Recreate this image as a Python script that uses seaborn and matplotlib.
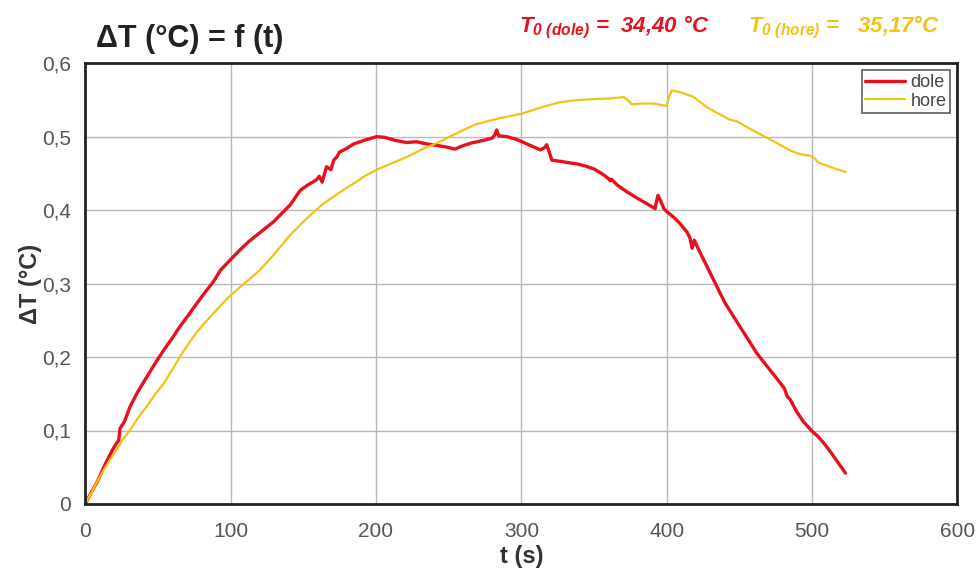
import matplotlib
matplotlib.use("Agg")
import matplotlib.pyplot as plt
import matplotlib.ticker as mticker
import pandas as pd
import seaborn as sns

# dole (spodná sonda)
t_dole = [0, 4, 8, 14, 19.5, 21.7, 23, 24, 27, 31, 36, 42.4, 48, 53.9, 60, 65, 71, 76.8,
          82, 88, 93, 99.7, 106.6, 113, 120, 129.5, 135, 141, 148, 153, 159, 161, 163,
          165, 166, 169, 171, 173, 175, 180, 184.6, 192, 200.6, 206, 213, 221, 228, 235,
          242, 248, 254.5, 259, 265, 272, 280, 282, 283, 284.5, 290, 297, 305, 313, 316,
          317.5, 319, 321, 328, 334, 338, 344, 350, 355, 358, 359, 360, 361, 362, 366,
          372.5, 380, 388.6, 392, 393, 394, 396, 398, 400, 405, 409, 414, 416, 417.5, 419,
          422, 428, 434.5, 440, 450.5, 456, 462, 470, 478, 481, 483, 485, 489, 494, 500,
          504, 508, 513, 518, 523]
dT_dole = [0, 0.015, 0.029, 0.055, 0.076, 0.083, 0.086, 0.103, 0.112, 0.133, 0.152, 0.173,
           0.191, 0.209, 0.226, 0.241, 0.257, 0.273, 0.287, 0.302, 0.318, 0.332, 0.346,
           0.358, 0.369, 0.384, 0.395, 0.407, 0.427, 0.434, 0.441, 0.446, 0.438, 0.452,
           0.459, 0.455, 0.468, 0.472, 0.479, 0.484, 0.490, 0.495, 0.500, 0.499, 0.495,
           0.492, 0.493, 0.490, 0.488, 0.486, 0.483, 0.487, 0.491, 0.494, 0.498, 0.503,
           0.509, 0.501, 0.500, 0.496, 0.489, 0.482, 0.485, 0.489, 0.480, 0.468, 0.466,
           0.464, 0.463, 0.460, 0.456, 0.450, 0.446, 0.444, 0.443, 0.440, 0.442, 0.434,
           0.425, 0.416, 0.406, 0.402, 0.412, 0.420, 0.412, 0.402, 0.398, 0.390, 0.382,
           0.370, 0.362, 0.348, 0.359, 0.346, 0.322, 0.296, 0.274, 0.241, 0.224, 0.205,
           0.185, 0.165, 0.157, 0.146, 0.142, 0.127, 0.112, 0.099, 0.092, 0.083, 0.070,
           0.056, 0.042]

# hore (horná sonda)
t_hore = [0, 5, 10.3, 16, 21.7, 26, 31, 36, 42.4, 48, 54, 60, 65, 71, 76.8, 82, 88, 94, 100,
          110, 120, 130, 141, 152, 164, 175, 184.5, 192, 200.6, 210, 221, 232, 244, 256,
          269, 285, 300, 314, 327, 340, 350, 362, 370.5, 373, 376, 384, 391, 396, 400,
          402, 403.5, 410, 418.5, 423, 427.6, 435, 443.6, 448, 457, 466.5, 476, 485, 492,
          498.6, 502, 504, 508, 515, 523]
dT_hore = [0, 0.018, 0.038, 0.057, 0.074, 0.088, 0.101, 0.116, 0.133, 0.149, 0.164, 0.183,
           0.200, 0.218, 0.234, 0.246, 0.259, 0.272, 0.284, 0.301, 0.318, 0.340, 0.366,
           0.388, 0.409, 0.424, 0.436, 0.446, 0.455, 0.463, 0.472, 0.483, 0.493, 0.505,
           0.517, 0.525, 0.531, 0.540, 0.547, 0.550, 0.551, 0.552, 0.554, 0.550, 0.544,
           0.545, 0.545, 0.543, 0.542, 0.556, 0.563, 0.560, 0.554, 0.547, 0.540, 0.532,
           0.523, 0.521, 0.511, 0.501, 0.491, 0.481, 0.476, 0.474, 0.470, 0.465, 0.462,
           0.457, 0.452]

T0_dole = "34,40 °C"
T0_hore = "35,17°C"

RED = "#e8101a"
YELLOW = "#f2c316"

df_dole = pd.DataFrame({"t": t_dole, "dT": dT_dole})
df_hore = pd.DataFrame({"t": t_hore, "dT": dT_hore})

sns.set_theme(style="whitegrid")
plt.rcParams["font.family"] = ["Liberation Sans", "DejaVu Sans"]
plt.rcParams["mathtext.fontset"] = "custom"
plt.rcParams["mathtext.it"] = "Liberation Sans:bold:italic"
plt.rcParams["mathtext.rm"] = "Liberation Sans:bold:italic"

fig = plt.figure(figsize=(9.79, 5.74), dpi=100)
ax = fig.add_axes([0.087, 0.122, 0.891, 0.768])

sns.lineplot(data=df_dole, x="t", y="dT", color=RED, linewidth=2.4, label="dole", ax=ax)
sns.lineplot(data=df_hore, x="t", y="dT", color=YELLOW, linewidth=1.6, label="hore", ax=ax)

ax.set_xlim(0, 600)
ax.set_ylim(0, 0.6)
ax.xaxis.set_major_locator(mticker.MultipleLocator(100))
ax.yaxis.set_major_locator(mticker.MultipleLocator(0.1))
ax.yaxis.set_major_formatter(mticker.FuncFormatter(
    lambda v, p: "0" if abs(v) < 1e-9 else f"{v:.1f}".replace(".", ",")))

ax.grid(True, color="#b8b8b8", linewidth=1.0)
for s in ax.spines.values():
    s.set_visible(True)
    s.set_color("#222222")
    s.set_linewidth(2.0)
ax.tick_params(axis="both", length=0, labelsize=15, labelcolor="#555555")
ax.tick_params(axis="x", pad=13)
ax.tick_params(axis="y", pad=10)

ax.set_xlabel("t (s)", fontsize=17, fontweight="bold", color="#333333", labelpad=3)
ax.set_ylabel("ΔT (°C)", fontsize=17, fontweight="bold", color="#333333")
ax.yaxis.set_label_coords(-0.050, 0.5)

fig.text(0.098, 0.932, "ΔT (°C) = f (t)", fontsize=22, fontweight="bold", color="#222222",
         va="center")
fig.text(0.530, 0.952, r"$T_{0\ (dole)}$ =  " + T0_dole, fontsize=16, fontweight="bold",
         style="italic", color=RED, va="center")
fig.text(0.764, 0.952, r"$T_{0\ (hore)}$ =   " + T0_hore, fontsize=16, fontweight="bold",
         style="italic", color=YELLOW, va="center")

leg = ax.legend(loc="upper right", fontsize=13, frameon=True, fancybox=False, shadow=False,
                borderpad=0.2, handlelength=2.2, handletextpad=0.3, labelspacing=0.1,
                borderaxespad=0.4)
leg.get_frame().set_edgecolor("#333333")
leg.get_frame().set_linewidth(1.2)
for txt in leg.get_texts():
    txt.set_color("#444444")

fig.savefig("out.png", dpi=100, facecolor="white")
